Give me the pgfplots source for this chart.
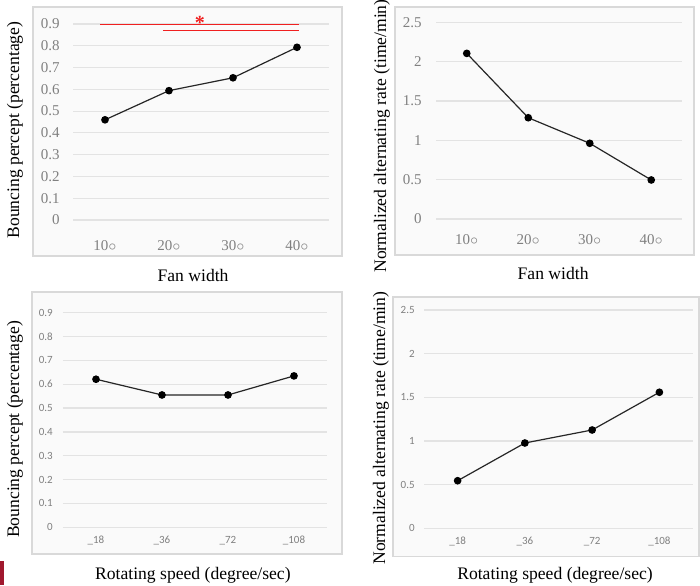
\documentclass[border=0pt]{standalone}
\usepackage{pgfplots}
\pgfplotsset{compat=1.18}
\usepackage{fontspec}
\setmainfont{Liberation Serif}
\newfontfamily\calfont{Carlito}
\definecolor{gridc}{HTML}{E3E3E3}
\definecolor{boxc}{HTML}{D9D9D9}
\definecolor{bgc}{HTML}{FAFAFA}
\definecolor{tickc}{HTML}{808080}
\definecolor{linec}{HTML}{262626}
\definecolor{sigred}{HTML}{F02020}
\definecolor{barred}{HTML}{A0182E}
\newcommand\labfont{\fontsize{8.8}{10}\selectfont}

\pgfplotsset{
  panel/.style={
    scale only axis,
    anchor=south west,
    xmin=-0.5, xmax=3.5, ymin=0,
    xtick={0,1,2,3},
    axis line style={draw=none},
    tick style={draw=none},
    ymajorgrids,
    major grid style={gridc, line width=0.6pt},
    clip=false,
    /pgf/number format/assume math mode=true,
    tick label style={color=tickc},
  },
  serifticks/.style={tick label style={font=\fontsize{7.5}{9}\selectfont}},
  sansticks/.style={tick label style={font=\calfont\fontsize{5.5}{7}\selectfont}},
  dataline/.style={linec, line width=0.6pt, mark=*, mark size=1.6pt,
    mark options={fill=black, draw=black}},
  xlab/.style 2 args={every axis x label/.style={at={(axis description cs:#1,#2)}, anchor=center, font=\labfont, text=black}},
  ylab/.style 2 args={every axis y label/.style={at={(axis description cs:#1,#2)}, rotate=90, anchor=center, font=\labfont, text=black}},
}

\begin{document}
\begin{tikzpicture}
\useasboundingbox (0,0) rectangle (350pt,292.5pt);
% chart frames
\draw[boxc, fill=bgc, line width=0.6pt] (16.5pt,164.5pt) rectangle (171pt,289pt);
\draw[boxc, fill=bgc, line width=0.6pt] (197.5pt,165pt) rectangle (347pt,289pt);
\draw[boxc, fill=bgc, line width=0.6pt] (16pt,15.5pt) rectangle (171pt,146.5pt);
\draw[boxc, fill=bgc, line width=0.6pt] (196.5pt,14.15pt) rectangle (349.5pt,144pt);
\fill[barred] (0,0) rectangle (2pt,12pt);

% Panel 1
\begin{axis}[panel, serifticks,
  at={(36.5pt,182.5pt)}, width=128pt, height=98pt,
  ymax=0.9,
  ytick={0,0.1,0.2,0.3,0.4,0.5,0.6,0.7,0.8,0.9},
  yticklabels={0,0.1,0.2,0.3,0.4,0.5,0.6,0.7,0.8,0.9},
  xticklabels={10$\circ$,20$\circ$,30$\circ$,40$\circ$},
  yticklabel style={anchor=east, inner sep=0pt, xshift=-6.5pt},
  xticklabel style={anchor=center, inner sep=0pt, yshift=-13pt},
  xlabel={Fan width},
  ylabel={Bouncing percept (percentage)},
  xlab={0.469}{-0.281},
  ylab={-0.2266}{0.459},
]
\addplot[dataline] coordinates {(0,0.46) (1,0.594) (2,0.653) (3,0.793)};
\addplot[sigred, line width=0.7pt, mark=none] coordinates {(-0.078,0.8985) (3.03,0.8985)};
\addplot[sigred, line width=0.7pt, mark=none] coordinates {(0.906,0.871) (3.03,0.871)};
\node[sigred, font=\bfseries\fontsize{10}{12}\selectfont, yshift=-2.3pt] at (axis cs:1.484,0.925) {*};
\end{axis}

% Panel 2
\begin{axis}[panel, serifticks,
  at={(218pt,183pt)}, width=123pt, height=98.35pt,
  ymax=2.5,
  ytick={0,0.5,1,1.5,2,2.5},
  yticklabels={0,0.5,1,1.5,2,2.5},
  xticklabels={10$\circ$,20$\circ$,30$\circ$,40$\circ$},
  yticklabel style={anchor=east, inner sep=0pt, xshift=-7pt},
  xticklabel style={anchor=center, inner sep=0pt, yshift=-10.5pt},
  xlabel={Fan width},
  ylabel={Normalized alternating rate (time/min)},
  xlab={0.476}{-0.2745},
  ylab={-0.2195}{0.422},
]
\addplot[dataline] coordinates {(0,2.105) (1,1.287) (2,0.962) (3,0.496)};
\end{axis}

% Panel 3
\begin{axis}[panel, sansticks,
  at={(31.5pt,28.85pt)}, width=132pt, height=107.3pt,
  ymax=0.9,
  ytick={0,0.1,0.2,0.3,0.4,0.5,0.6,0.7,0.8,0.9},
  yticklabels={0,0.1,0.2,0.3,0.4,0.5,0.6,0.7,0.8,0.9},
  xticklabels={\_18,\_36,\_72,\_108},
  yticklabel style={anchor=east, inner sep=0pt, xshift=-4.9pt},
  xticklabel style={anchor=center, inner sep=0pt, yshift=-6.7pt},
  xlabel={Rotating speed (degree/sec)},
  ylabel={Bouncing percept (percentage)},
  xlab={0.492}{-0.222},
  ylab={-0.182}{0.456},
]
\addplot[dataline] coordinates {(0,0.621) (1,0.555) (2,0.555) (3,0.635)};
\end{axis}

% Panel 4
\begin{axis}[panel, sansticks,
  at={(212pt,28.35pt)}, width=134.5pt, height=109.15pt,
  ymax=2.5,
  ytick={0,0.5,1,1.5,2,2.5},
  yticklabels={0,0.5,1,1.5,2,2.5},
  xticklabels={\_18,\_36,\_72,\_108},
  yticklabel style={anchor=east, inner sep=0pt, xshift=-4.5pt},
  xticklabel style={anchor=center, inner sep=0pt, yshift=-6.7pt},
  xlabel={Rotating speed (degree/sec)},
  ylabel={Normalized alternating rate (time/min)},
  xlab={0.487}{-0.214},
  ylab={-0.160}{0.459},
]
\addplot[dataline] coordinates {(0,0.545) (1,0.977) (2,1.126) (3,1.558)};
\end{axis}
\end{tikzpicture}
\end{document}
